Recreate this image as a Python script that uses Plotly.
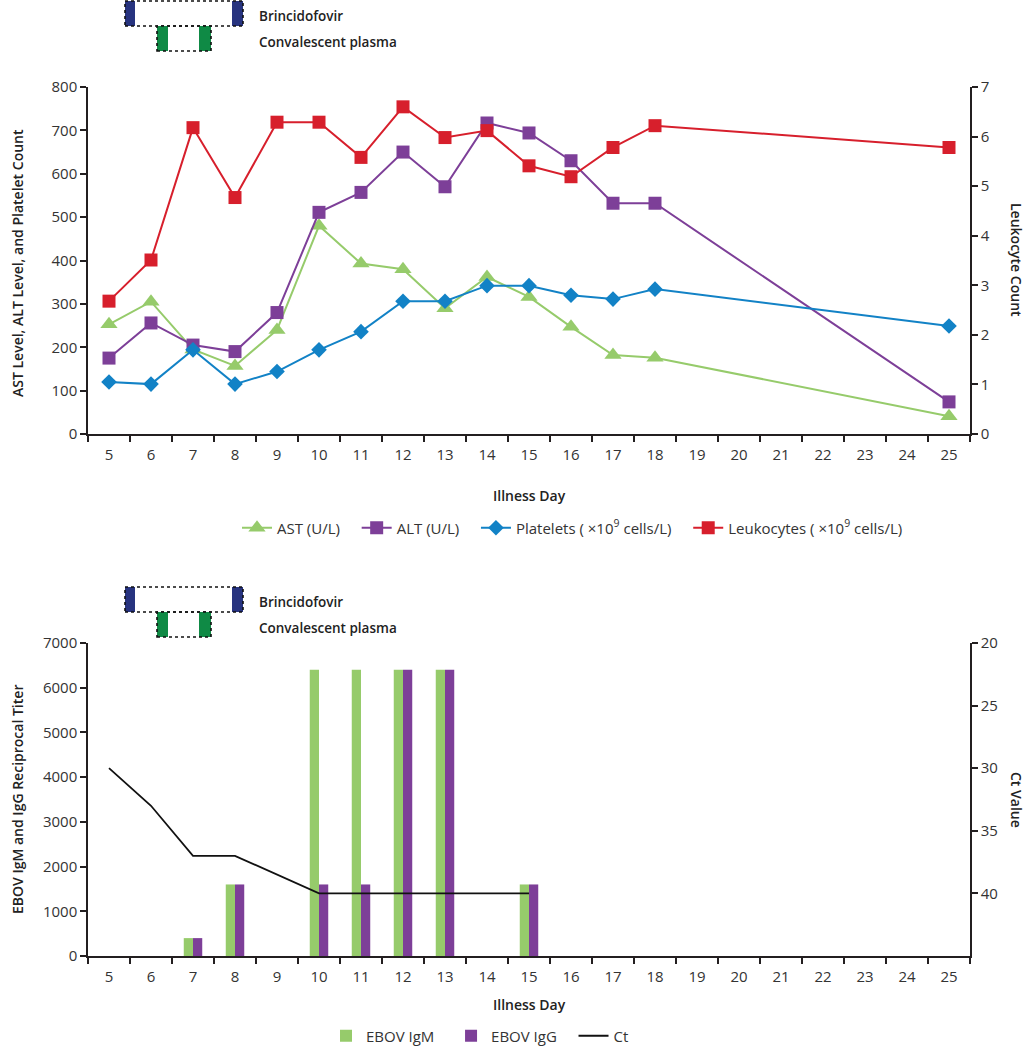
import plotly.graph_objects as go

# ---------------- data ----------------
all_days = [str(d) for d in range(5, 26)]

top_days = ["5", "6", "7", "8", "9", "10", "11", "12", "13", "14", "15", "16", "17", "18", "25"]
ast = [253, 305, 195, 157, 240, 480, 393, 380, 290, 362, 316, 247, 182, 176, 41]
alt = [175, 256, 205, 190, 280, 511, 557, 650, 570, 717, 694, 630, 532, 532, 74]
platelets = [120, 115, 194, 115, 144, 194, 236, 306, 306, 342, 342, 320, 311, 334, 249]
leukocytes = [2.68, 3.51, 6.18, 4.77, 6.29, 6.29, 5.58, 6.60, 5.98, 6.12, 5.41, 5.19, 5.78, 6.22, 5.78]

titer_days = ["7", "8", "10", "11", "12", "13", "15"]
igm = [400, 1600, 6400, 6400, 6400, 6400, 1600]
igg = [400, 1600, 1600, 1600, 6400, 6400, 1600]

ct_days = ["5", "6", "7", "8", "10", "11", "12", "13", "15"]
ct_vals = [30, 33, 37, 37, 40, 40, 40, 40, 40]

left_ticks_top = list(range(0, 801, 100))
right_ticks_top = list(range(0, 8))
left_ticks_bot = list(range(0, 7001, 1000))
right_ticks_bot = [20, 25, 30, 35, 40]

# ---------------- style ----------------
W, H = 1029, 1050
def fx(px):
    return px / W
def fy(py):
    return 1 - py / H

GREEN = "#96CB6B"
PURPLE = "#7D3F98"
BLUE = "#1282C6"
RED = "#D71F2C"
AXC = "#231F20"
TXT = "#333333"
FONT = "Open Sans"
SP = "\u00a0\u00a0\u00a0"   # extra gap after legend entries

fig = go.Figure()

fig.add_trace(go.Scatter(x=top_days, y=ast, name="AST (U/L)" + SP, mode="lines+markers",
                         line=dict(color=GREEN, width=2),
                         marker=dict(symbol="triangle-up", size=15, color=GREEN),
                         xaxis="x", yaxis="y", legend="legend"))
fig.add_trace(go.Scatter(x=top_days, y=alt, name="ALT (U/L)" + SP, mode="lines+markers",
                         line=dict(color=PURPLE, width=2),
                         marker=dict(symbol="square", size=13, color=PURPLE),
                         xaxis="x", yaxis="y", legend="legend"))
fig.add_trace(go.Scatter(x=top_days, y=platelets, name="Platelets ( ×10<sup>9</sup> cells/L)" + SP,
                         mode="lines+markers",
                         line=dict(color=BLUE, width=2),
                         marker=dict(symbol="diamond", size=12, color=BLUE),
                         xaxis="x", yaxis="y", legend="legend"))
fig.add_trace(go.Scatter(x=top_days, y=leukocytes, name="Leukocytes ( ×10<sup>9</sup> cells/L)",
                         mode="lines+markers",
                         line=dict(color=RED, width=2),
                         marker=dict(symbol="square", size=13, color=RED),
                         xaxis="x", yaxis="y2", legend="legend"))

fig.add_trace(go.Bar(x=titer_days, y=igm, name="EBOV IgM" + SP, marker=dict(color=GREEN, line=dict(width=0)),
                     xaxis="x2", yaxis="y3", legend="legend2", offsetgroup="m"))
fig.add_trace(go.Bar(x=titer_days, y=igg, name="EBOV IgG" + SP, marker=dict(color=PURPLE, line=dict(width=0)),
                     xaxis="x2", yaxis="y3", legend="legend2", offsetgroup="g"))
fig.add_trace(go.Scatter(x=ct_days, y=ct_vals, name="Ct", mode="lines",
                         line=dict(color="#111111", width=1.8),
                         xaxis="x2", yaxis="y4", legend="legend2"))

xdom = [fx(88), fx(970)]
top_dom = [fy(434), fy(87)]
bot_dom = [fy(956), fy(643)]

def xax(anchor):
    return dict(domain=xdom, anchor=anchor, type="category", categoryorder="array",
                categoryarray=all_days, range=[-0.5, 20.5], tickson="boundaries",
                ticks="outside", ticklen=6, tickwidth=1.5, tickcolor=AXC,
                showline=True, linecolor=AXC, linewidth=1.5, showgrid=False,
                ticklabelstandoff=6, automargin=False,
                tickfont=dict(family=FONT, size=15, color=TXT), fixedrange=True)

def yax(dom, rng, vals, side="left", anchor="x", overlay=None):
    d = dict(domain=dom, anchor=anchor, range=rng, tickvals=vals, side=side,
             ticks="outside", ticklen=6, tickwidth=1.5, tickcolor=AXC,
             showline=True, linecolor=AXC, linewidth=1.5, showgrid=False,
             zeroline=False, automargin=False, fixedrange=True,
             tickfont=dict(family=FONT, size=15, color=TXT))
    if overlay:
        d["overlaying"] = overlay
    return d

fig.update_layout(
    width=W, height=H,
    margin=dict(l=0, r=0, t=0, b=0, pad=0, autoexpand=False),
    paper_bgcolor="white", plot_bgcolor="rgba(0,0,0,0)",
    font=dict(family=FONT, color=TXT),
    barmode="group", bargap=0.56, bargroupgap=0,
    xaxis=xax("y"),
    yaxis=yax(top_dom, [0, 800], left_ticks_top),
    yaxis2=yax(top_dom, [0, 7], right_ticks_top, side="right", overlay="y"),
    xaxis2=xax("y3"),
    yaxis3=yax(bot_dom, [0, 7000], left_ticks_bot, anchor="x2"),
    yaxis4=yax(bot_dom, [45, 20], right_ticks_bot, side="right", anchor="x2", overlay="y3"),
    legend=dict(orientation="h", x=fx(237), xanchor="left", y=fy(528), yanchor="middle",
                font=dict(family=FONT, size=15, color=TXT), itemwidth=30,
                bgcolor="rgba(0,0,0,0)"),
    legend2=dict(orientation="h", x=fx(326), xanchor="left", y=fy(1036), yanchor="middle",
                 font=dict(family=FONT, size=15, color=TXT), itemwidth=30,
                 bgcolor="rgba(0,0,0,0)"),
    showlegend=True,
)

# ---------------- treatment indicator boxes ----------------
shapes = []
annotations = []
for off in (0, 586):
    # Brincidofovir
    y0, y1 = off + 1, off + 26
    shapes.append(dict(type="rect", xref="paper", yref="paper", x0=fx(125), x1=fx(135),
                       y0=fy(y1), y1=fy(y0), fillcolor="#27337F", line=dict(width=0)))
    shapes.append(dict(type="rect", xref="paper", yref="paper", x0=fx(232), x1=fx(243),
                       y0=fy(y1), y1=fy(y0), fillcolor="#27337F", line=dict(width=0)))
    shapes.append(dict(type="rect", xref="paper", yref="paper", x0=fx(125), x1=fx(243),
                       y0=fy(y1), y1=fy(y0), fillcolor="rgba(0,0,0,0)",
                       line=dict(color="#111111", width=1.6, dash="dot")))
    # Convalescent plasma
    y0, y1 = off + 26, off + 51
    shapes.append(dict(type="rect", xref="paper", yref="paper", x0=fx(157), x1=fx(168),
                       y0=fy(y1), y1=fy(y0), fillcolor="#0F8A45", line=dict(width=0)))
    shapes.append(dict(type="rect", xref="paper", yref="paper", x0=fx(199), x1=fx(211),
                       y0=fy(y1), y1=fy(y0), fillcolor="#0F8A45", line=dict(width=0)))
    shapes.append(dict(type="rect", xref="paper", yref="paper", x0=fx(157), x1=fx(211),
                       y0=fy(y1), y1=fy(y0), fillcolor="rgba(0,0,0,0)",
                       line=dict(color="#111111", width=1.6, dash="dot")))
    annotations.append(dict(text="Brincidofovir", xref="paper", yref="paper", x=fx(257), y=fy(off + 16),
                            xanchor="left", yanchor="middle", showarrow=False,
                            font=dict(family=FONT, size=13.5, color="#222222", weight=600)))
    annotations.append(dict(text="Convalescent plasma", xref="paper", yref="paper", x=fx(257), y=fy(off + 42),
                            xanchor="left", yanchor="middle", showarrow=False,
                            font=dict(family=FONT, size=13.5, color="#222222", weight=600)))

# axis titles
title_font = dict(family=FONT, size=14, color="#222222", weight=600)
annotations += [
    dict(text="AST Level, ALT Level, and Platelet Count", xref="paper", yref="paper",
         x=fx(17), y=fy(263), textangle=-90, showarrow=False, font=title_font,
         xanchor="center", yanchor="middle"),
    dict(text="Leukocyte Count", xref="paper", yref="paper",
         x=fx(1017), y=fy(260), textangle=90, showarrow=False, font=title_font,
         xanchor="center", yanchor="middle"),
    dict(text="Illness Day", xref="paper", yref="paper",
         x=fx(529), y=fy(496), showarrow=False, font=title_font,
         xanchor="center", yanchor="middle"),
    dict(text="EBOV IgM and IgG Reciprocal Titer", xref="paper", yref="paper",
         x=fx(17), y=fy(800), textangle=-90, showarrow=False, font=title_font,
         xanchor="center", yanchor="middle"),
    dict(text="Ct Value", xref="paper", yref="paper",
         x=fx(1017), y=fy(800), textangle=90, showarrow=False, font=title_font,
         xanchor="center", yanchor="middle"),
    dict(text="Illness Day", xref="paper", yref="paper",
         x=fx(529), y=fy(1004), showarrow=False, font=title_font,
         xanchor="center", yanchor="middle"),
]

fig.update_layout(shapes=shapes, annotations=annotations)

fig.write_html("out.html", config={"displayModeBar": False},
               post_script="document.body.style.margin='0';document.body.style.padding='0';")
